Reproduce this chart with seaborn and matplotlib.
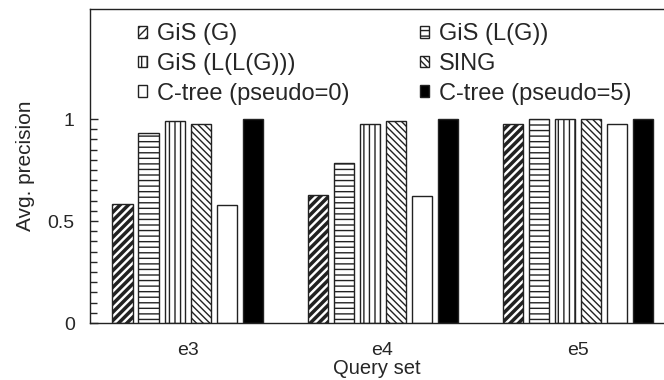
import matplotlib
matplotlib.use("Agg")
import matplotlib.pyplot as plt
import seaborn as sns
import pandas as pd
import numpy as np

query_sets = ["e3", "e4", "e5"]
methods = ["GiS (G)", "GiS (L(G))", "GiS (L(L(G)))", "SING",
           "C-tree (pseudo=0)", "C-tree (pseudo=5)"]
gis_g = [0.583, 0.626, 0.974]
gis_lg = [0.933, 0.787, 1.0]
gis_llg = [0.99, 0.977, 1.0]
sing = [0.975, 0.99, 1.0]
ctree0 = [0.578, 0.625, 0.974]
ctree5 = [1.0, 1.0, 1.0]

series = [gis_g, gis_lg, gis_llg, sing, ctree0, ctree5]
rows = []
for m, vals in zip(methods, series):
    for q, v in zip(query_sets, vals):
        rows.append({"Query set": q, "Method": m, "Avg. precision": v})
df = pd.DataFrame(rows)

sns.set_style("ticks")
plt.rcParams["font.family"] = ["Liberation Sans", "DejaVu Sans"]
plt.rcParams["hatch.linewidth"] = 1.0

fig = plt.figure(figsize=(6.64, 3.8), dpi=100)
ax = fig.add_axes([90 / 664, 57 / 380, 574 / 664, (323 - 9) / 380])

palette = {m: "white" for m in methods}
palette["C-tree (pseudo=5)"] = "black"
sns.barplot(data=df, x="Query set", y="Avg. precision", hue="Method",
            hue_order=methods, order=query_sets, palette=palette,
            width=0.8, gap=0.23, edgecolor="#222222", linewidth=1.0,
            saturation=1, legend=False, ax=ax)

hatches = ["////", "---", "|||", "\\\\\\\\\\", "", ""]
for cont, h in zip(ax.containers, hatches):
    for p in cont.patches:
        p.set_hatch(h)
        p.set_edgecolor("#222222")
        if h == "////":
            try:
                p.set_hatch_linewidth(2.5)
            except Exception:
                pass

ax.set_xlim(-0.5, 2.443)
ax.set_ylim(0, 1.54)
ax.set_yticks([0, 0.5, 1])
ax.set_yticklabels(["0", "0.5", "1"])
ax.set_yticks(np.arange(0, 1.0001, 0.05), minor=True)
ax.tick_params(axis="y", which="both", direction="in", labelsize=14, pad=11)
ax.tick_params(axis="y", which="major", length=6, width=1)
ax.tick_params(axis="y", which="minor", length=5, width=1)
ax.tick_params(axis="x", length=0, labelsize=14, pad=14)
ax.set_xlabel("Query set", fontsize=14.5, labelpad=0)
ax.set_ylabel("Avg. precision", fontsize=15, labelpad=9)

for s in ["left", "bottom", "top"]:
    ax.spines[s].set_visible(True)
    ax.spines[s].set_color("#222222")
    ax.spines[s].set_linewidth(1.0)
ax.spines["right"].set_visible(False)

conts = list(ax.containers)
order = [0, 2, 4, 1, 3, 5]
ax.legend(handles=[conts[i] for i in order], labels=[methods[i] for i in order],
          ncol=2, loc="upper left", bbox_to_anchor=(0.083, 0.955), frameon=False,
          fontsize=17, handlelength=0.4, handleheight=0.4,
          handletextpad=0.4, columnspacing=3.0, labelspacing=0.33,
          borderaxespad=0, borderpad=0)

fig.savefig("out.png", dpi=100)
